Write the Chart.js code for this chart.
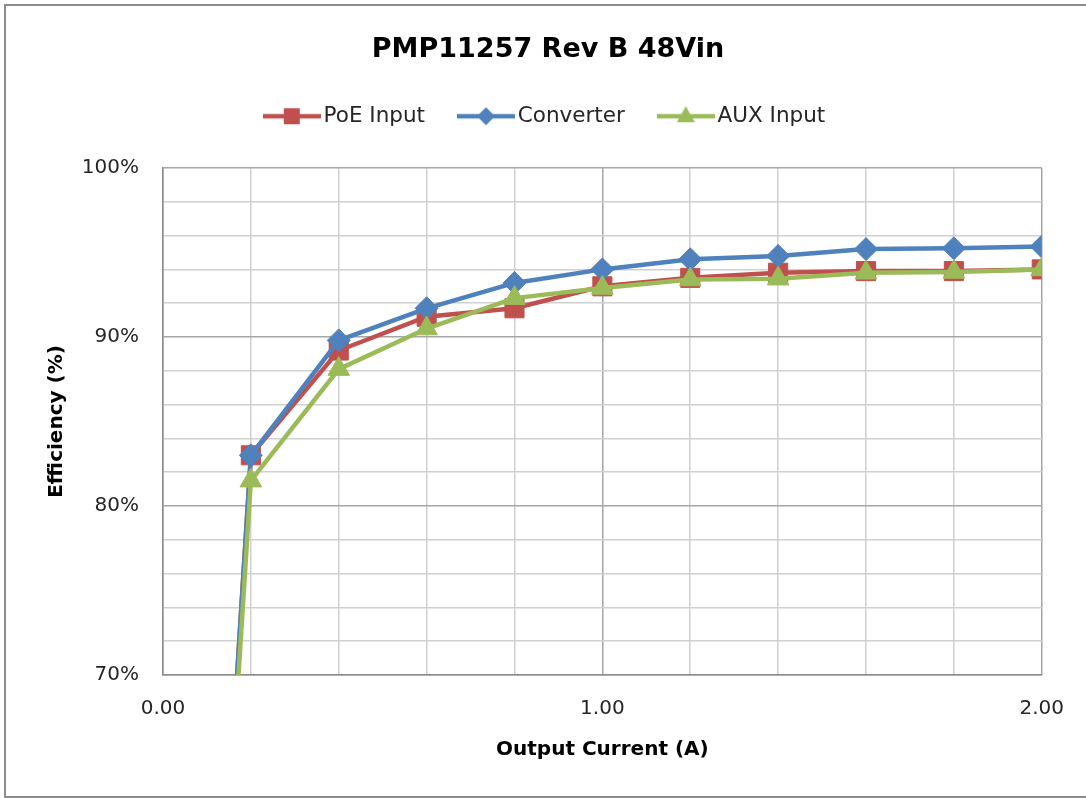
<!DOCTYPE html>
<html>
<head>
<meta charset="utf-8">
<script src="https://cdn.jsdelivr.net/npm/chart.js@4"></script>
<style>
  html, body { margin: 0; padding: 0; background: #ffffff; }
  #wrap { width: 1086px; height: 798px; position: relative; }
</style>
</head>
<body>
<div id="wrap"><canvas id="c" width="1086" height="798"></canvas></div>
<script>
// ---- Data ----
const chartTitle = 'PMP11257 Rev B 48Vin';
const xTitle = 'Output Current (A)';
const yTitle = 'Efficiency (%)';
const seriesNames = ['PoE Input', 'Converter', 'AUX Input'];
const currents = [0.0, 0.2, 0.4, 0.6, 0.8, 1.0, 1.2, 1.4, 1.6, 1.8, 2.0];
const poeInput  = [0, 83.0, 89.2, 91.2, 91.7, 93.0, 93.5, 93.8, 93.9, 93.9, 94.0];
const converter = [0, 83.0, 89.8, 91.7, 93.2, 94.0, 94.6, 94.8, 95.2, 95.25, 95.35];
const auxInput  = [0, 81.5, 88.1, 90.5, 92.3, 92.9, 93.4, 93.45, 93.8, 93.85, 94.0];
const xMin = 0, xMax = 2, xStep = 0.2;
const yMin = 70, yMax = 100, yStep = 2;

const FONT = "'DejaVu Sans', sans-serif";
const colors = ['#C0504D', '#4F81BD', '#9BBB59'];
const styles = ['rect', 'rectRot', 'triangle'];
const radii = [13.5, 11.5, 12.5];
const seriesValues = [poeInput, converter, auxInput];

const toPoints = arr => currents.map((x, i) => ({ x: x, y: arr[i] }));

// legend icons: line with marker
function makeIcon(color, style) {
  const w = 58, h = 22;
  const cv = document.createElement('canvas');
  cv.width = w; cv.height = h;
  const c = cv.getContext('2d');
  c.strokeStyle = color; c.lineWidth = 4.5;
  c.beginPath(); c.moveTo(0, h / 2); c.lineTo(w, h / 2); c.stroke();
  c.fillStyle = color;
  const cx = w / 2, cy = h / 2;
  c.beginPath();
  if (style === 'rect') { c.rect(cx - 8, cy - 8, 16, 16); }
  else if (style === 'rectRot') { c.moveTo(cx, cy - 9); c.lineTo(cx + 9, cy); c.lineTo(cx, cy + 9); c.lineTo(cx - 9, cy); c.closePath(); }
  else { c.moveTo(cx, cy - 10); c.lineTo(cx + 9, cy + 6); c.lineTo(cx - 9, cy + 6); c.closePath(); }
  c.fill();
  return cv;
}
const icons = colors.map((c, i) => makeIcon(c, styles[i]));

const frame = {
  id: 'frame',
  beforeDraw(chart) {
    const ctx = chart.ctx;
    ctx.save();
    ctx.fillStyle = '#ffffff';
    ctx.fillRect(0, 0, chart.width, chart.height);
    ctx.restore();
  },
  afterDraw(chart) {
    const ctx = chart.ctx;
    ctx.save();
    ctx.strokeStyle = '#8c8c8c';
    ctx.lineWidth = 2;
    ctx.beginPath();
    ctx.moveTo(5, 798); ctx.lineTo(5, 5); ctx.lineTo(1086, 5);
    ctx.moveTo(5, 797); ctx.lineTo(1086, 797);
    ctx.stroke();
    ctx.restore();
  }
};

const isMajorX = v => Math.abs(v - Math.round(v)) < 1e-6;
const isMajorY = v => Math.abs(v % 10) < 1e-6;

new Chart(document.getElementById('c'), {
  type: 'line',
  data: {
    datasets: seriesNames.map((name, i) => ({
      label: name,
      data: toPoints(seriesValues[i]),
      borderColor: colors[i],
      backgroundColor: colors[i],
      borderWidth: 4.5,
      pointStyle: styles[i],
      pointRadius: ctx => (ctx.raw && ctx.raw.y < yMin ? 0 : radii[i]),
      pointBorderWidth: 1,
      pointBorderColor: colors[i],
      pointBackgroundColor: colors[i],
      tension: 0,
      fill: false,
      order: 3 - i
    }))
  },
  plugins: [frame],
  options: {
    responsive: false,
    animation: false,
    events: [],
    layout: { padding: { left: 10, right: 0, top: 0, bottom: 0 } },
    plugins: {
      title: {
        display: true,
        text: chartTitle,
        color: '#000000',
        font: { family: FONT, size: 27, weight: 'bold', lineHeight: 1.0 },
        padding: { top: 36.5, bottom: 2 }
      },
      subtitle: {
        display: true,
        text: '',
        weight: 500,
        font: { size: 10, lineHeight: 1.2 },
        padding: { top: 19, bottom: 0 }
      },
      legend: {
        display: true,
        position: 'top',
        labels: {
          usePointStyle: true,
          pointStyleWidth: 42,
          padding: 40,
          color: '#262626',
          font: { family: FONT, size: 21.5 },
          generateLabels(chart) {
            const items = Chart.defaults.plugins.legend.labels.generateLabels(chart);
            items.forEach(it => { it.pointStyle = icons[it.datasetIndex]; });
            return items;
          },
          sort: (a, b) => a.datasetIndex - b.datasetIndex
        }
      },
      tooltip: { enabled: false }
    },
    scales: {
      x: {
        type: 'linear',
        min: xMin, max: xMax,
        afterFit(scale) { scale.height = 123; },
        ticks: {
          stepSize: xStep,
          autoSkip: false,
          maxRotation: 0,
          padding: 22,
          color: '#262626',
          font: { family: FONT, size: 20 },
          callback: v => (isMajorX(v) ? Math.round(v).toFixed(2) : '')
        },
        grid: {
          drawTicks: false,
          color: ctx => (ctx.tick && isMajorX(ctx.tick.value) ? '#a6a6a6' : '#d0d0d0'),
          lineWidth: 1.5
        },
        border: { display: true, color: '#8c8c8c', width: 1.5 },
        title: {
          display: true,
          text: xTitle,
          color: '#000000',
          font: { family: FONT, size: 20, weight: 'bold', lineHeight: 1.2 },
          padding: { top: 0, bottom: 36 }
        }
      },
      y: {
        type: 'linear',
        min: yMin, max: yMax,
        afterFit(scale) { scale.width = 153; },
        ticks: {
          stepSize: yStep,
          autoSkip: false,
          padding: 24,
          color: '#262626',
          font: { family: FONT, size: 20 },
          callback: v => (isMajorY(v) ? v + '%' : '')
        },
        grid: {
          drawTicks: false,
          color: ctx => (ctx.tick && isMajorY(ctx.tick.value) ? '#a6a6a6' : '#d0d0d0'),
          lineWidth: 1.5
        },
        border: { display: true, color: '#8c8c8c', width: 1.5 },
        title: {
          display: true,
          text: yTitle,
          color: '#000000',
          font: { family: FONT, size: 20, weight: 'bold', lineHeight: 1.2 },
          padding: { top: 35, bottom: 0 }
        }
      },
      yRightSpace: {
        type: 'linear',
        position: 'right',
        display: true,
        afterFit(scale) { scale.width = 44; },
        ticks: { display: false },
        grid: { display: false, drawTicks: false },
        border: { display: false },
        title: { display: false }
      }
    }
  }
});
</script>
</body>
</html>
